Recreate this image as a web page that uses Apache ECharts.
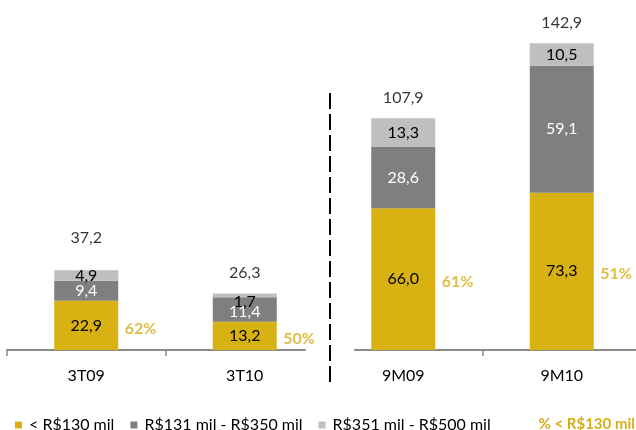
<!DOCTYPE html>
<html>
<head>
<meta charset="utf-8">
<script src="https://cdn.jsdelivr.net/npm/echarts@6/dist/echarts.min.js"></script>
<style>
  html, body { margin: 0; padding: 0; background: #ffffff; }
  #chart { width: 636px; height: 430px; }
</style>
</head>
<body>
<div id="chart"></div>
<script>
// Sales by price band (R$ million), quarter and nine-month periods
const categories = ['3T09', '3T10', '9M09', '9M10'];
const below130 = [22.9, 13.2, 66.0, 73.3];
const from131to350 = [9.4, 11.4, 28.6, 59.1];
const from351to500 = [4.9, 1.7, 13.3, 10.5];
const totals = [37.2, 26.3, 107.9, 142.9];
const shareBelow130 = [62, 50, 61, 51];
const bandNames = ['< R$130 mil', 'R$131 mil - R$350 mil', 'R$351 mil - R$500 mil'];
const shareName = '% < R$130 mil';

const FONT = 'Lato, "Open Sans", sans-serif';
const YELLOW = '#D8B112';
const YELLOW_TEXT = '#D6AE18';
const DARK = '#7F7F7F';
const LIGHT = '#BFBFBF';
const AXIS = '#898989';

// comma as decimal separator
const fmt = v => v.toFixed(1).replace('.', ',');

// two panels: quarters on the left, nine-month totals on the right
const panels = [[0, 1], [2, 3]];
const UNIT = 158.5;            // width of one category slot in px
const ORIGIN = 7;              // px where slot 0 starts
const gridBoxes = [
  { left: 7, width: 298 },
  { left: 355, width: 281 }
];

// small nudges for crowded labels in the 3T10 bar
const labelNudge = {
  '1|1': [0, 2],
  '1|2': [0, 6]
};

const bands = [
  { name: bandNames[0], data: below130, color: YELLOW, text: '#000000' },
  { name: bandNames[1], data: from131to350, color: DARK, text: '#ffffff' },
  { name: bandNames[2], data: from351to500, color: LIGHT, text: '#000000' }
];

const grid = [], xAxis = [], yAxis = [], series = [];

panels.forEach((idx, g) => {
  const box = gridBoxes[g];
  grid.push({ left: box.left, width: box.width, top: 28, height: 322 });
  const min = (box.left - ORIGIN) / UNIT;
  const max = (box.left + box.width - ORIGIN) / UNIT;
  xAxis.push({
    type: 'value',
    gridIndex: g,
    min: min,
    max: max,
    splitLine: { show: false },
    axisLine: { show: true, lineStyle: { color: AXIS, width: 2 } },
    axisTick: {
      show: true,
      customValues: g === 0 ? [0, 1] : [3],
      length: 6,
      lineStyle: { color: AXIS, width: 1.5 }
    },
    axisLabel: {
      customValues: idx.map(i => i + 0.5),
      formatter: v => categories[Math.round(v - 0.5)],
      fontFamily: FONT,
      fontSize: 16,
      color: '#000000',
      margin: 18
    }
  });
  yAxis.push({ type: 'value', gridIndex: g, min: 0, max: 150, show: false });

  // column 0 holds the amount (stacked, y), column 1 the slot position (x)
  bands.forEach((b, k) => {
    series.push({
      type: 'bar',
      name: b.name,
      xAxisIndex: g,
      yAxisIndex: g,
      stack: 'panel' + g,
      encode: { x: 1, y: 0 },
      barWidth: 64,
      itemStyle: { color: b.color },
      label: {
        show: true,
        position: 'inside',
        fontFamily: FONT,
        fontSize: 16,
        color: b.text,
        formatter: p => fmt(p.value[0])
      },
      data: idx.map(i => {
        const item = { value: [b.data[i], i + 0.5] };
        const nudge = labelNudge[i + '|' + k];
        if (nudge) item.label = { offset: nudge };
        return item;
      })
    });
  });

  // totals above each stack
  series.push({
    type: 'scatter',
    name: 'Total',
    xAxisIndex: g,
    yAxisIndex: g,
    symbolSize: 1,
    silent: true,
    itemStyle: { color: 'rgba(0,0,0,0)' },
    label: {
      show: true,
      position: 'top',
      distance: 12,
      fontFamily: FONT,
      fontSize: 16,
      color: '#000000',
      formatter: p => fmt(p.value[1])
    },
    data: idx.map(i => {
      const item = { value: [i + 0.5, totals[i]] };
      if (i === 0) item.label = { distance: 24 };
      return item;
    })
  });

  // share of the lowest band, to the right of each bar
  series.push({
    type: 'scatter',
    name: shareName,
    xAxisIndex: g,
    yAxisIndex: g,
    symbolSize: 1,
    silent: true,
    itemStyle: { color: 'rgba(0,0,0,0)' },
    label: {
      show: true,
      position: 'right',
      distance: 38,
      offset: [0, 3],
      fontFamily: FONT,
      fontSize: 16,
      fontWeight: 'bold',
      color: YELLOW_TEXT,
      formatter: p => shareBelow130[Math.round(p.value[0] - 0.5)] + '%'
    },
    data: idx.map(i => [i + 0.5, below130[i] / 2])
  });
});

const chart = echarts.init(document.getElementById('chart'), null, { renderer: 'canvas' });
chart.setOption({
  animation: false,
  backgroundColor: '#ffffff',
  grid: grid,
  xAxis: xAxis,
  yAxis: yAxis,
  legend: [
    {
      data: bandNames,
      left: 10,
      top: 412,
      icon: 'rect',
      itemWidth: 7,
      itemHeight: 7,
      itemGap: 16,
      selectedMode: false,
      textStyle: { fontFamily: FONT, fontSize: 16, color: '#000000', padding: [0, 0, 0, 2] }
    },
    {
      data: [{ name: shareName, icon: 'none' }],
      right: 0,
      top: 412,
      itemWidth: 0,
      itemHeight: 7,
      padding: [5, 1, 5, 0],
      selectedMode: false,
      textStyle: { fontFamily: FONT, fontSize: 15, fontWeight: 'bold', color: YELLOW_TEXT }
    }
  ],
  graphic: [
    {
      type: 'line',
      silent: true,
      shape: { x1: 330, y1: 93, x2: 330, y2: 386 },
      style: { stroke: '#000000', lineWidth: 2, lineDash: [16, 5] }
    }
  ],
  series: series
});
</script>
</body>
</html>
